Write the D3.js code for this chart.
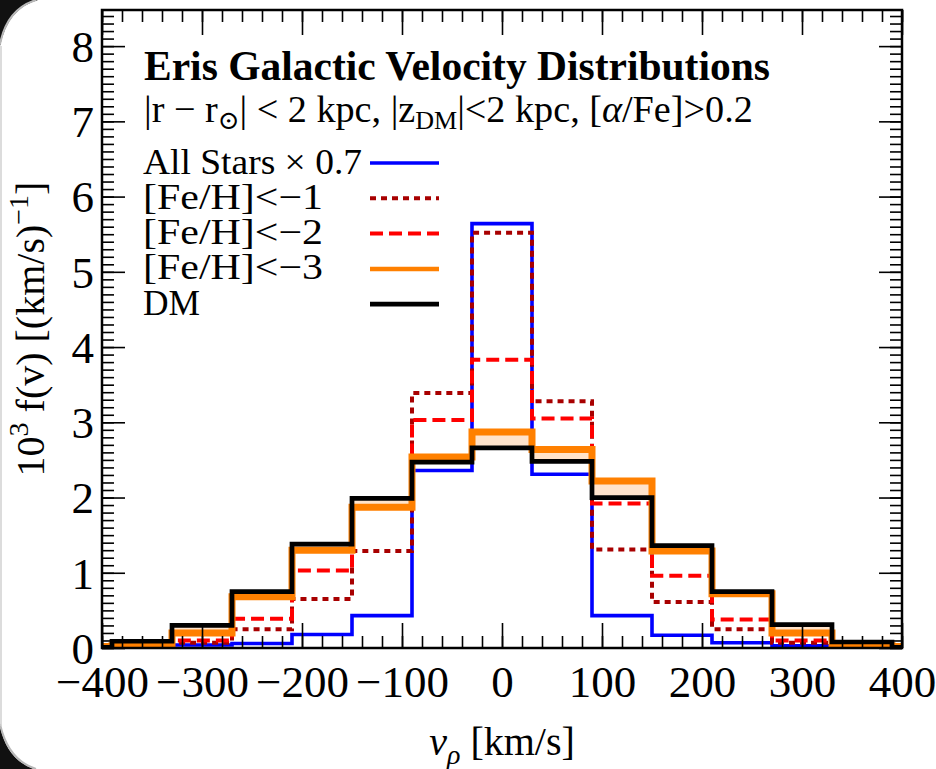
<!DOCTYPE html>
<html>
<head>
<meta charset="utf-8">
<script src="https://cdn.jsdelivr.net/npm/d3@7"></script>
<style>
  html, body { margin: 0; padding: 0; background: #fff; }
  svg { display: block; }
  text { font-family: "Liberation Serif", "Times New Roman", "DejaVu Serif", serif; fill: #000; }
</style>
</head>
<body>
<svg id="chart" width="936" height="769"></svg>
<script>
// Velocity bin centres (km/s); bins are 60 km/s wide
const binCenters = [-420, -360, -300, -240, -180, -120, -60, 0, 60, 120, 180, 240, 300, 360, 420];
const binWidth = 60;

// 10^3 f(v) in (km/s)^-1 per bin
const allStarsScaled = [0.005, 0.01, 0.04, 0.06, 0.18, 0.43, 2.36, 5.64, 2.31, 0.43, 0.17, 0.07, 0.03, 0.01, 0.005];
const fehBelowMinus1 = [0.005, 0.02, 0.07, 0.25, 0.65, 1.29, 3.39, 5.52, 3.28, 1.31, 0.61, 0.25, 0.07, 0.02, 0.005];
const fehBelowMinus2 = [0.005, 0.02, 0.10, 0.39, 1.03, 1.88, 3.03, 3.83, 3.05, 1.92, 0.96, 0.38, 0.10, 0.02, 0.005];
const fehBelowMinus3 = [0.02, 0.03, 0.20, 0.68, 1.30, 1.87, 2.54, 2.87, 2.64, 2.22, 1.29, 0.72, 0.20, 0.03, 0.02];
const darkMatter     = [0.01, 0.09, 0.30, 0.75, 1.38, 1.99, 2.47, 2.66, 2.48, 2.00, 1.36, 0.75, 0.31, 0.08, 0.01];

const xMajorTicks = [-400, -300, -200, -100, 0, 100, 200, 300, 400];
const yMajorTicks = [0, 1, 2, 3, 4, 5, 6, 7, 8];
const legendLabels = ["All Stars \u00d7 0.7", "[Fe/H]<\u22121", "[Fe/H]<\u22122", "[Fe/H]<\u22123", "DM"];

const svg = d3.select("#chart");
const plot = { left: 102, right: 902, top: 10, bottom: 648 };

const x = d3.scaleLinear().domain([-400, 400]).range([plot.left, plot.right]);
const y = d3.scaleLinear().domain([0, 8.48]).range([plot.bottom, plot.top]);

// dark rounded window corners at the left edge
const deco = svg.append("g");
deco.append("path").attr("d", "M0,0 L38,0 Q8,8 0,46 Z").attr("fill", "#111");
deco.append("path").attr("d", "M36,0 Q7,9 0,44").attr("fill", "none").attr("stroke", "#b8b8b8").attr("stroke-width", 2);
deco.append("path").attr("d", "M0,769 L34,769 Q7,760 0,726 Z").attr("fill", "#111");
deco.append("path").attr("d", "M0,724 Q8,760 36,769").attr("fill", "none").attr("stroke", "#b8b8b8").attr("stroke-width", 2);
deco.append("line").attr("x1", 1).attr("x2", 1).attr("y1", 46).attr("y2", 726).attr("stroke", "#d0d0d0").attr("stroke-width", 1.5);

svg.append("clipPath").attr("id", "plotClip")
  .append("rect")
  .attr("x", plot.left).attr("y", plot.top)
  .attr("width", plot.right - plot.left).attr("height", plot.bottom - plot.top);

// step points: each bin contributes its left edge, plus the last right edge
function stepPoints(values) {
  const pts = binCenters.map((c, i) => ({ v: c - binWidth / 2, f: values[i], g: darkMatter[i] }));
  const n = binCenters.length - 1;
  pts.push({ v: binCenters[n] + binWidth / 2, f: values[n], g: darkMatter[n] });
  return pts;
}

const stepLine = d3.line().curve(d3.curveStepAfter).x(d => x(d.v)).y(d => y(d.f));
const bandArea = d3.area().curve(d3.curveStepAfter).x(d => x(d.v)).y0(d => y(d.g)).y1(d => y(d.f));

const series = [
  { values: allStarsScaled, color: "#0000ff", width: 3.6, dash: null, legendWidth: 3.6 },
  { values: fehBelowMinus1, color: "#a80000", width: 4, dash: "6,5", legendWidth: 4 },
  { values: fehBelowMinus2, color: "#ff0000", width: 4, dash: "13,6", legendWidth: 4 },
  { values: fehBelowMinus3, color: "#ff8000", width: 7, dash: null, legendWidth: 4.5 },
  { values: darkMatter,     color: "#000000", width: 4.7, dash: null, legendWidth: 4.7 }
];

const marks = svg.append("g").attr("clip-path", "url(#plotClip)");

series.forEach((s, i) => {
  if (i === 3) {
    // light fill between the [Fe/H]<-3 curve and the DM curve
    marks.append("path")
      .attr("d", bandArea(stepPoints(s.values)))
      .attr("fill", "#ffe3cb")
      .attr("stroke", "none");
  }
  marks.append("path")
    .attr("d", stepLine(stepPoints(s.values)))
    .attr("fill", "none")
    .attr("stroke", s.color)
    .attr("stroke-width", s.width)
    .attr("stroke-dasharray", s.dash)
    .attr("stroke-linejoin", "miter");
});

// axes: ticks point inward on all four sides
const xMinor = d3.range(-400, 401, 20);
const yMinor = d3.range(0, 8.45, 0.1).map(v => +v.toFixed(1));
const tickStroke = 1.6;

function styleAxis(g) {
  g.select(".domain").remove();
  g.selectAll(".tick line").attr("stroke", "#000").attr("stroke-width", tickStroke);
}

svg.append("g").attr("transform", `translate(0,${plot.bottom})`)
  .call(d3.axisBottom(x).tickValues(xMinor).tickSize(-12).tickFormat(""))
  .call(styleAxis);
const xAxis = svg.append("g").attr("transform", `translate(0,${plot.bottom})`)
  .call(d3.axisBottom(x).tickValues(xMajorTicks).tickSizeInner(-25).tickSizeOuter(0).tickPadding(17)
    .tickFormat(d => d < 0 ? "\u2212" + Math.abs(d) : String(d)))
  .call(styleAxis);
xAxis.selectAll("text").attr("font-size", 45).attr("font-family", "Liberation Serif");

svg.append("g").attr("transform", `translate(0,${plot.top})`)
  .call(d3.axisTop(x).tickValues(xMinor).tickSize(-12).tickFormat(""))
  .call(styleAxis);
svg.append("g").attr("transform", `translate(0,${plot.top})`)
  .call(d3.axisTop(x).tickValues(xMajorTicks).tickSize(-25).tickFormat(""))
  .call(styleAxis);

svg.append("g").attr("transform", `translate(${plot.left},0)`)
  .call(d3.axisLeft(y).tickValues(yMinor).tickSize(-12).tickFormat(""))
  .call(styleAxis);
const yAxis = svg.append("g").attr("transform", `translate(${plot.left},0)`)
  .call(d3.axisLeft(y).tickValues(yMajorTicks).tickSizeInner(-23).tickSizeOuter(0).tickPadding(8).tickFormat(d3.format("d")))
  .call(styleAxis);
yAxis.selectAll("text").attr("font-size", 45).attr("font-family", "Liberation Serif").attr("dy", "0.34em");

svg.append("g").attr("transform", `translate(${plot.right},0)`)
  .call(d3.axisRight(y).tickValues(yMinor).tickSize(-12).tickFormat(""))
  .call(styleAxis);
svg.append("g").attr("transform", `translate(${plot.right},0)`)
  .call(d3.axisRight(y).tickValues(yMajorTicks).tickSize(-23).tickFormat(""))
  .call(styleAxis);

// frame
svg.append("rect")
  .attr("x", plot.left).attr("y", plot.top)
  .attr("width", plot.right - plot.left).attr("height", plot.bottom - plot.top)
  .attr("fill", "none").attr("stroke", "#000").attr("stroke-width", 2.5);

// title and selection cuts
svg.append("text").attr("x", 144).attr("y", 80)
  .attr("font-size", 41.5).attr("font-weight", "bold")
  .text("Eris Galactic Velocity Distributions");

const sub = svg.append("text").attr("x", 144).attr("y", 122).attr("font-size", 38.2);
sub.append("tspan").text("|r \u2212 r");
sub.append("tspan").attr("font-size", 26).attr("dy", 7).text("\u2299");
sub.append("tspan").attr("dy", -7).text("| < 2 kpc, |z");
sub.append("tspan").attr("font-size", 26).attr("dy", 7).text("DM");
sub.append("tspan").attr("dy", -7).text("|<2 kpc, [");
sub.append("tspan").attr("font-style", "italic").text("\u03b1");
sub.append("tspan").text("/Fe]>0.2");

// legend
const legend = svg.append("g");
legendLabels.forEach((label, i) => {
  const ly = 163 + i * 35.3;
  const t = legend.append("text").attr("x", 143).attr("y", ly + 10.5).attr("font-size", 35).text(label);
  if (label.startsWith("[Fe/H]")) {
    t.attr("textLength", 180).attr("lengthAdjust", "spacingAndGlyphs");
  } else if (i === 0) {
    t.attr("textLength", 219).attr("lengthAdjust", "spacingAndGlyphs");
  } else {
    t.attr("textLength", 57).attr("lengthAdjust", "spacingAndGlyphs");
  }
  const s = series[i];
  legend.append("line")
    .attr("x1", 370).attr("x2", 439).attr("y1", ly).attr("y2", ly)
    .attr("stroke", s.color).attr("stroke-width", s.legendWidth)
    .attr("stroke-dasharray", s.dash);
});

// axis titles
const xt = svg.append("text").attr("x", 502).attr("y", 755).attr("text-anchor", "middle").attr("font-size", 40);
xt.append("tspan").attr("font-style", "italic").text("v");
xt.append("tspan").attr("font-style", "italic").attr("font-size", 28).attr("dy", 9).text("\u03c1");
xt.append("tspan").attr("dy", -9).text(" [km/s]");

const yt = svg.append("text").attr("transform", "translate(44,329) rotate(-90)")
  .attr("text-anchor", "middle").attr("font-size", 40);
yt.append("tspan").text("10");
yt.append("tspan").attr("font-size", 28).attr("dy", -16).text("3");
yt.append("tspan").attr("dy", 16).text(" f(v) [(km/s)");
yt.append("tspan").attr("font-size", 28).attr("dy", -16).text("\u22121");
yt.append("tspan").attr("dy", 16).text("]");
</script>
</body>
</html>
